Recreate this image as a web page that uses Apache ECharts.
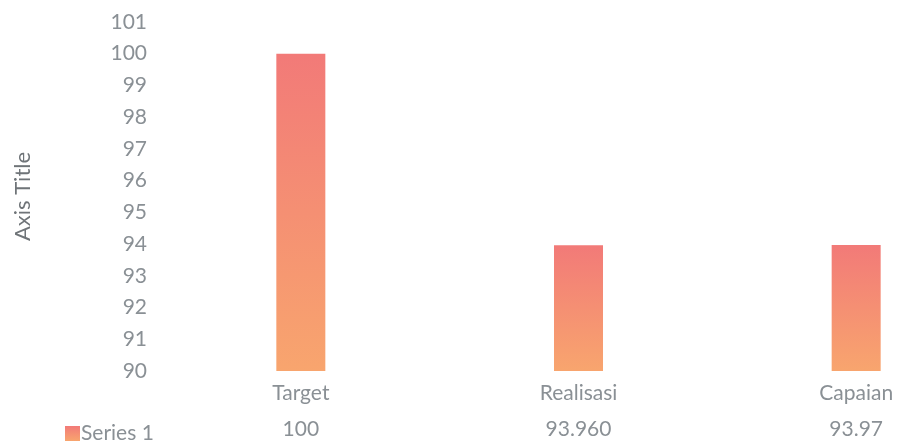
<!DOCTYPE html>
<html>
<head>
<meta charset="utf-8">
<script src="https://cdn.jsdelivr.net/npm/echarts@6/dist/echarts.min.js"></script>
<style>
  html, body { margin: 0; padding: 0; background: #fff; }
  #chart { width: 898px; height: 441px; }
</style>
</head>
<body>
<div id="chart"></div>
<script>
// data
var categories = ["Target", "Realisasi", "Capaian"];
var seriesValues = [100, 93.96, 93.97];
var tableLabels = ["100", "93.960", "93.97"];
var yTicks = { min: 90, max: 101, interval: 1 };

var chart = echarts.init(document.getElementById("chart"));
var font = "Lato, 'Open Sans', sans-serif";

var option = {
  animation: false,
  textStyle: { fontFamily: font },
  legend: {
    data: ["Series 1"],
    left: 60,
    top: 418,
    icon: "rect",
    itemWidth: 15,
    itemHeight: 15,
    itemGap: 4,
    textStyle: { color: "#8a9095", fontSize: 21, fontFamily: font, padding: [0, 0, 0, -4] }
  },
  // the plot runs past the right edge of the picture, so the grid is wider than the canvas
  grid: { left: 162, width: 833, top: 22, bottom: 70, outerBoundsMode: "none", containLabel: false },
  xAxis: [
    {
      type: "category",
      data: categories,
      axisLine: { show: false },
      axisTick: { show: false },
      axisLabel: { color: "#8a9095", fontSize: 21, margin: 12, fontFamily: font }
    },
    {
      type: "category",
      data: tableLabels,
      position: "bottom",
      offset: 36,
      axisLine: { show: false },
      axisTick: { show: false },
      axisLabel: { color: "#8a9095", fontSize: 21, margin: 12, fontFamily: font }
    }
  ],
  yAxis: {
    type: "value",
    min: yTicks.min,
    max: yTicks.max,
    interval: yTicks.interval,
    name: "Axis Title",
    nameLocation: "middle",
    nameGap: 128,
    nameRotate: 90,
    nameTextStyle: { color: "#6f7478", fontSize: 22, fontFamily: font },
    axisLine: { show: false },
    axisTick: { show: false },
    splitLine: { show: false },
    axisLabel: { color: "#8a9095", fontSize: 21, margin: 15, fontFamily: font }
  },
  series: [
    {
      name: "Series 1",
      type: "bar",
      xAxisIndex: 0,
      barWidth: 49,
      data: seriesValues,
      itemStyle: {
        color: new echarts.graphic.LinearGradient(0, 0, 0, 1, [
          { offset: 0, color: "#f27a78" },
          { offset: 1, color: "#f8a56e" }
        ])
      }
    }
  ]
};

chart.setOption(option);
</script>
</body>
</html>
